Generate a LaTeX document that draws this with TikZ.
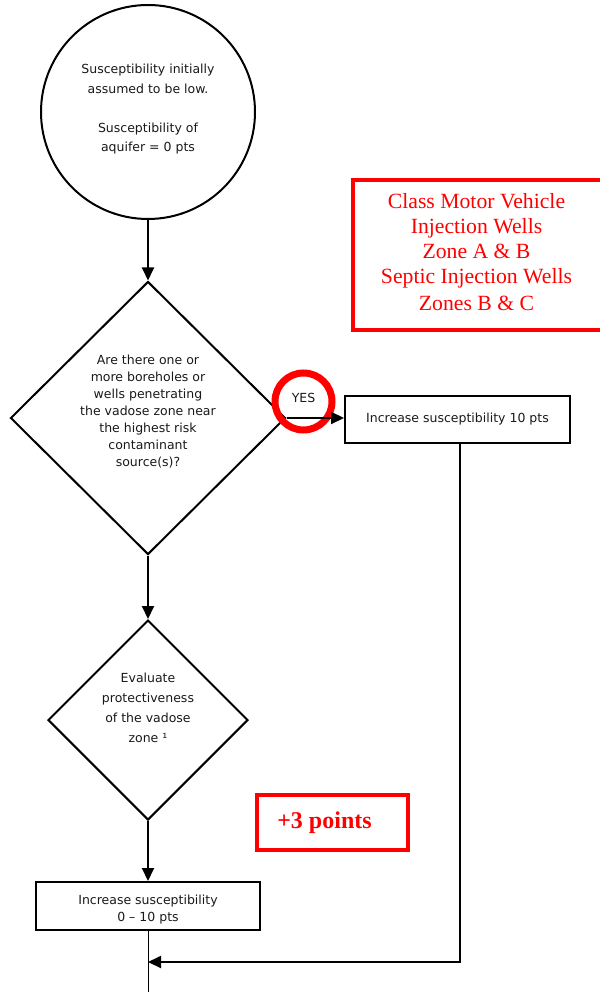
\documentclass[tikz,border=0pt]{standalone}
\usepackage{fontspec}
\setmainfont{DejaVu Sans}
\newfontfamily\serifnote{Liberation Serif}
\usetikzlibrary{arrows.meta,positioning,shapes.geometric}
\definecolor{fcLine}{RGB}{0,0,0}
\definecolor{fcText}{RGB}{25,25,25}
\definecolor{fcMark}{RGB}{255,0,0}
% raise a centred text block by half of #1
\newcommand{\liftby}[1]{\rule[-#1]{0pt}{0pt}}

\begin{document}
\begin{tikzpicture}[x=1pt,y=-1pt,line width=2pt,draw=fcLine,
  flow/.style={-{Triangle[length=13pt,width=12pt]}},
  txt/.style={font=\fontsize{12.5}{17}\selectfont,text=fcText,align=center},
  proc/.style={txt,draw,rectangle,inner sep=0pt},
  decide/.style={txt,draw,diamond,inner sep=0pt},
  note/.style={draw=fcMark,line width=4pt,inner sep=0pt},
  noteText/.style={text=fcMark,align=center,inner sep=0pt}]
    \useasboundingbox (0,0) rectangle (599,992);
    % Nodes
    \node[txt,draw,circle,minimum size=214pt,inner sep=0pt,font=\fontsize{12.5}{19.5}\selectfont] at (148,112) (start) {Susceptibility initially\\assumed to be low.\\[19.5pt]Susceptibility of\\aquifer = 0 pts\liftby{8pt}};
    \node[decide,minimum width=275pt,minimum height=273pt] at (148,418) (boreQ) {Are there one or\\more boreholes or\\wells penetrating\\the vadose zone near\\the highest risk\\contaminant\\source(s)?\liftby{15pt}};
    \node[proc,minimum width=225pt,minimum height=47pt] at (457.5,419.5) (tenPts) {Increase susceptibility 10 pts};
    \node[decide,minimum width=200pt,minimum height=200pt,font=\fontsize{12.5}{20}\selectfont] at (148,720) (vadoseQ) {Evaluate\\protectiveness\\of the vadose\\zone ¹\liftby{24pt}};
    \node[proc,minimum width=224pt,minimum height=48pt] at (148,906) (rangePts) {\rule{0pt}{16pt}Increase susceptibility\\0 – 10 pts};
    \coordinate (join) at (148,962);
    \coordinate (tail) at (148,992);
    % Red marks
    \node[txt,circle,draw=fcMark,line width=7pt,minimum size=57pt,inner sep=0pt] at (303.5,401.5) (yesMark) {YES\liftby{8pt}};
    \node[note,minimum width=257pt,minimum height=150pt,
      label={[noteText,font=\serifnote\fontsize{21.7}{25}\selectfont,xshift=-5pt,yshift=3pt]center:{Class Motor Vehicle\\Injection Wells\\Zone A \& B\\Septic Injection Wells\\[2pt]Zones B \& C}}] at (481.5,255) (classNote) {};
    \node[note,minimum width=151pt,minimum height=55pt,
      label={[noteText,font=\serifnote\bfseries\fontsize{24}{28}\selectfont,xshift=-8pt]center:+3 points}] at (332.5,822.5) (plusNote) {};
    % Arrows
    \draw[flow] (start) -- (boreQ);
    \draw[flow] (boreQ.east) -- (boreQ.east -| tenPts.west);
    \draw[flow] (boreQ) -- (vadoseQ);
    \draw[flow] (vadoseQ) -- (rangePts);
    \draw[line width=1pt] (rangePts) -- (tail);
    \draw[flow] ([xshift=2pt]tenPts.south) |- (join);
\end{tikzpicture}
\end{document}
